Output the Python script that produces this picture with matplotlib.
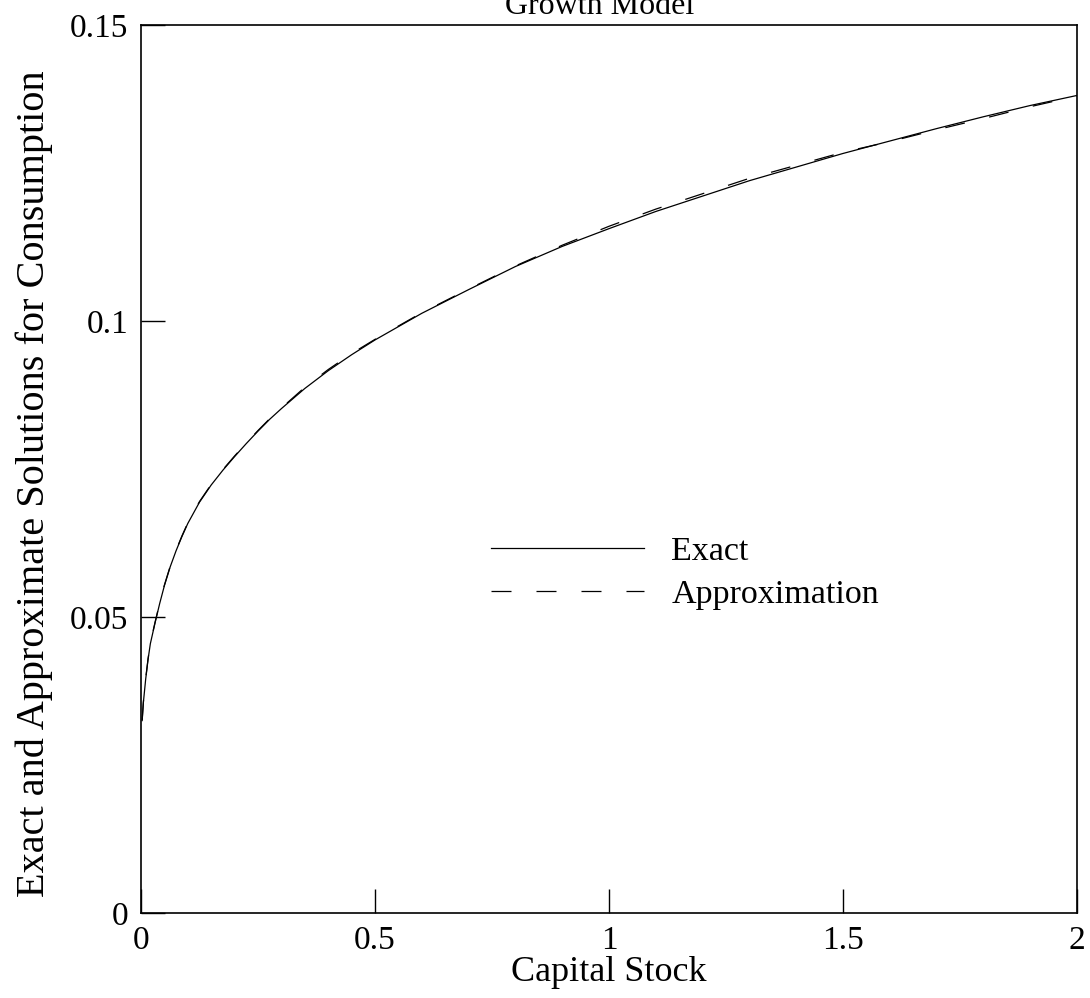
import matplotlib
matplotlib.use("Agg")
from matplotlib import pyplot as plt

# capital stock grid and consumption values
capital = [0.0025, 0.005, 0.01, 0.015, 0.02, 0.03, 0.04, 0.05, 0.0625, 0.075,
           0.0875, 0.1, 0.125, 0.15, 0.175, 0.2, 0.225, 0.25, 0.275, 0.3,
           0.35, 0.4, 0.45, 0.5, 0.6, 0.7, 0.8, 0.9, 1.0, 1.1,
           1.2, 1.3, 1.4, 1.5, 1.6, 1.7, 1.8, 1.9, 2.0]
exact = [0.0325, 0.0355, 0.0395, 0.0428, 0.0455, 0.0490, 0.0523, 0.0553, 0.0585, 0.0612,
         0.0636, 0.0658, 0.0694, 0.0723, 0.0748, 0.0771, 0.0793, 0.0814, 0.0834, 0.0852,
         0.0886, 0.0916, 0.0943, 0.0968, 0.1013, 0.1053, 0.1092, 0.1126, 0.1156, 0.1185,
         0.1211, 0.1237, 0.1260, 0.1283, 0.1304, 0.1325, 0.1345, 0.1364, 0.1381]
approx = [0.0326, 0.0356, 0.0396, 0.0429, 0.0456, 0.0491, 0.0524, 0.0554, 0.0586, 0.0613,
          0.0637, 0.0659, 0.0695, 0.0724, 0.0749, 0.0772, 0.0794, 0.0815, 0.0835, 0.0853,
          0.0888, 0.0918, 0.0945, 0.0969, 0.1014, 0.1054, 0.1093, 0.1128, 0.1160, 0.1189,
          0.1215, 0.1241, 0.1263, 0.1285, 0.1303, 0.1323, 0.1342, 0.1362, 0.1380]

xticks = [0, 0.5, 1, 1.5, 2]
xticklabels = ["0", "0.5", "1", "1.5", "2"]
yticks = [0, 0.05, 0.1, 0.15]
yticklabels = ["0", "0.05", "0.1", "0.15"]

plt.rcParams['font.family'] = ['Liberation Serif', 'DejaVu Serif']
plt.rcParams['font.size'] = 24

fig = plt.figure(figsize=(10.9, 9.98), dpi=100)
ax = fig.add_axes([141/1090, 1 - 913/998, 936/1090, 888/998])

lw = 0.9
ax.plot(capital, exact, color='black', lw=lw, label='Exact')
ax.plot(capital, approx, color='black', lw=lw,
        dashes=(20/1.389/lw, 25/1.389/lw), label='Approximation')

ax.set_xlim(0, 2)
ax.set_ylim(0, 0.15)
ax.set_xticks(xticks)
ax.set_xticklabels(xticklabels)
ax.set_yticks(yticks)
ax.set_yticklabels(yticklabels)
ax.tick_params(direction='in', length=17, width=1, pad=9)
for s in ax.spines.values():
    s.set_linewidth(1.2)

ax.set_title("Growth Model", pad=8, fontsize=23, x=0.49)
ax.set_xlabel("Capital Stock", fontsize=26, labelpad=0)
ax.set_ylabel("Exact and Approximate Solutions for Consumption", fontsize=29)
ax.yaxis.set_label_coords(-0.094, 0.484)

ax.legend(frameon=False, loc='upper left', bbox_to_anchor=(0.374, 0.424),
          handlelength=4.5, handletextpad=0.8, labelspacing=0.34, borderpad=0,
          borderaxespad=0, fontsize=24.5)

plt.savefig("out.png", dpi=100)
